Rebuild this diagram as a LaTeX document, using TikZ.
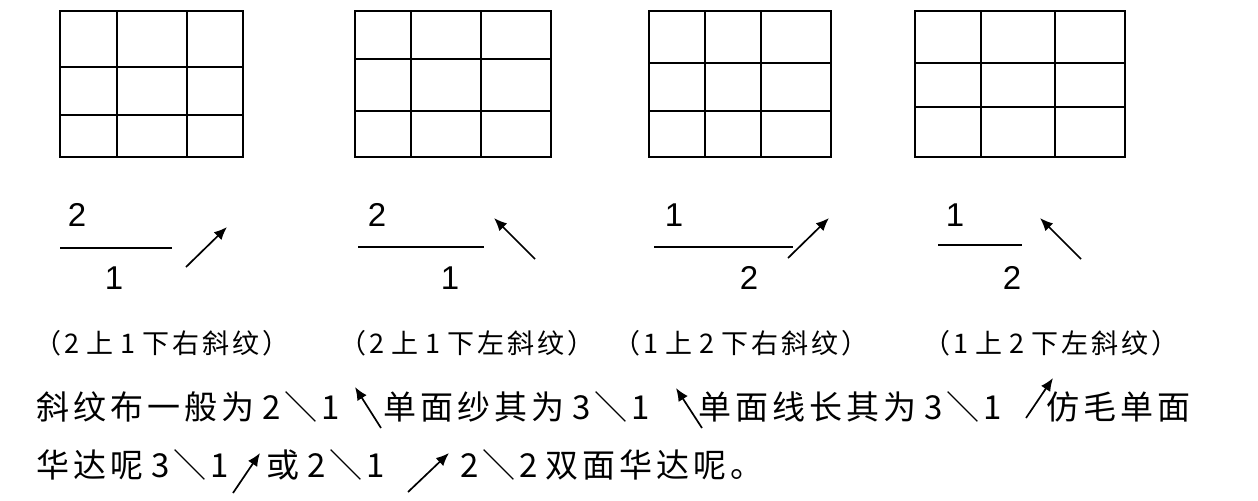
\documentclass[tikz,border=0pt]{standalone}
\usepackage{fontspec}
\usetikzlibrary{arrows.meta}
\newfontfamily\cjkcap[LetterSpace=11]{Noto Sans CJK SC}
\newfontfamily\cjktext[LetterSpace=12]{Noto Sans CJK SC}
\newfontfamily\fracfont{Liberation Sans}
\newcommand{\capgap}{\hspace{3.5pt}}
\newcommand{\notegap}{\hspace{4pt}}
\begin{document}
\begin{tikzpicture}[x=0.5pt, y=-0.5pt,
	gridLine/.style={line width=1pt},
	fracBar/.style={line width=1pt},
	fracDigit/.style={inner sep=0pt, font=\fracfont\fontsize{16.5}{20}\selectfont},
	twillArrow/.style={line width=0.85pt, -{Latex[length=6.5pt,width=5.5pt]}},
	capText/.style={anchor=west, inner sep=0pt, font=\cjkcap\fontsize{13.5}{16}\selectfont},
	noteText/.style={anchor=west, inner sep=0pt, font=\cjktext\fontsize{16.5}{20}\selectfont}]
	
	\useasboundingbox[fill=white] (0,0) rectangle (1258,500);
	
	%Weave grids
	\draw[gridLine] (60,11) rectangle (243,157) (117,11) -- (117,157) (187,11) -- (187,157)
	(60,67) -- (243,67) (60,115) -- (243,115);
	\draw[gridLine] (355,11) rectangle (551,157) (411,11) -- (411,157) (481,11) -- (481,157)
	(355,59) -- (551,59) (355,111) -- (551,111);
	\draw[gridLine] (649,11) rectangle (831,157) (705,11) -- (705,157) (761,11) -- (761,157)
	(649,63) -- (831,63) (649,111) -- (831,111);
	\draw[gridLine] (915,11) rectangle (1125,157) (981,11) -- (981,157) (1055,11) -- (1055,157)
	(915,63) -- (1125,63) (915,107) -- (1125,107);
	
	%Fractions
	\node (up1) at (77,215) [fracDigit]{2};
	\node (down1) at (114,278) [fracDigit]{1};
	\coordinate (bar1L) at (60,248);
	\coordinate (bar1R) at (172,248);
	\draw[fracBar] (bar1L) -- (bar1R);
	
	\node (up2) at (377,215) [fracDigit]{2};
	\node (down2) at (450,278) [fracDigit]{1};
	\coordinate (bar2L) at (358,247);
	\coordinate (bar2R) at (484,247);
	\draw[fracBar] (bar2L) -- (bar2R);
	
	\node (up3) at (674,215) [fracDigit]{1};
	\node (down3) at (749,278) [fracDigit]{2};
	\coordinate (bar3L) at (654,247);
	\coordinate (bar3R) at (793,247);
	\draw[fracBar] (bar3L) -- (bar3R);
	
	\node (up4) at (955,215) [fracDigit]{1};
	\node (down4) at (1012,278) [fracDigit]{2};
	\coordinate (bar4L) at (938,245);
	\coordinate (bar4R) at (1022,245);
	\draw[fracBar] (bar4L) -- (bar4R);
	
	%Twill direction arrows
	\coordinate (dir1s) at (186,267); \coordinate (dir1e) at (227,227);
	\coordinate (dir2s) at (535,259); \coordinate (dir2e) at (494,218);
	\coordinate (dir3s) at (788,258); \coordinate (dir3e) at (829,218);
	\coordinate (dir4s) at (1081,259); \coordinate (dir4e) at (1040,218);
	\draw[twillArrow] (dir1s) -- (dir1e);
	\draw[twillArrow] (dir2s) -- (dir2e);
	\draw[twillArrow] (dir3s) -- (dir3e);
	\draw[twillArrow] (dir4s) -- (dir4e);
	
	%Captions
	\node (cap1) at (34,343) [capText]{（2\capgap 上\capgap 1\capgap 下右斜纹）};
	\node (cap2) at (339,343) [capText]{（2\capgap 上\capgap 1\capgap 下左斜纹）};
	\node (cap3) at (613,343) [capText]{（1\capgap 上\capgap 2\capgap 下右斜纹）};
	\node (cap4) at (923,343) [capText]{（1\capgap 上\capgap 2\capgap 下左斜纹）};
	
	%Notes
	\node (note1) at (36,407) [noteText]{斜纹布一般为\notegap 2＼1};
	\node (note2) at (383,407) [noteText]{单面纱其为\notegap 3＼1};
	\node (note3) at (698,407) [noteText]{单面线长其为\notegap 3＼1};
	\node (note4) at (1046,407) [noteText]{仿毛单面};
	\node (note5) at (36,465) [noteText]{华达呢\notegap 3＼1};
	\node (note6) at (266,465) [noteText]{或\notegap 2＼1};
	\node (note7) at (460,465) [noteText]{2＼2\notegap 双面华达呢。};
	
	%Arrows inside the notes
	\coordinate (txt1s) at (381,428); \coordinate (txt1e) at (355,387);
	\coordinate (txt2s) at (702,428); \coordinate (txt2e) at (676,388);
	\coordinate (txt3s) at (1026,418); \coordinate (txt3e) at (1053,378);
	\coordinate (txt4s) at (233,493); \coordinate (txt4e) at (260,453);
	\coordinate (txt5s) at (408,492); \coordinate (txt5e) at (449,453);
	\draw[twillArrow] (txt1s) -- (txt1e);
	\draw[twillArrow] (txt2s) -- (txt2e);
	\draw[twillArrow] (txt3s) -- (txt3e);
	\draw[twillArrow] (txt4s) -- (txt4e);
	\draw[twillArrow] (txt5s) -- (txt5e);
	
\end{tikzpicture}
\end{document}
